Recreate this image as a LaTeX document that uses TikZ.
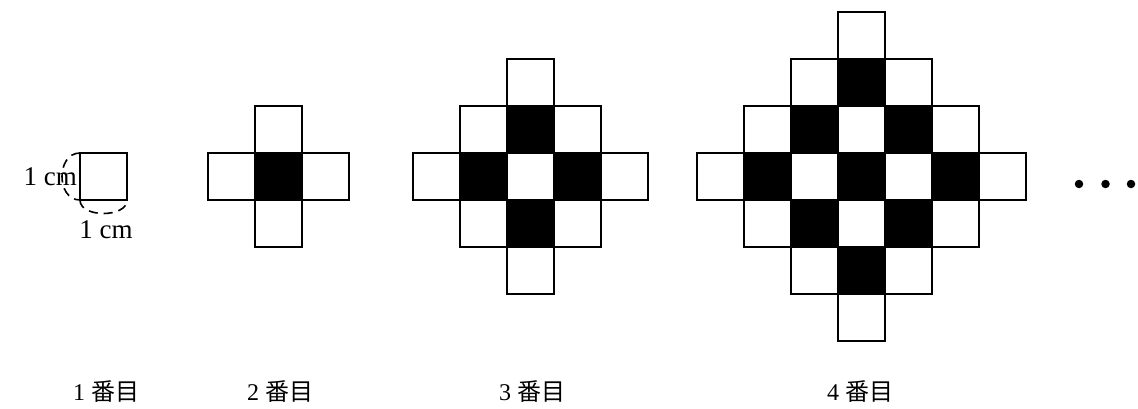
\documentclass[tikz,border=0pt]{standalone}
\usepackage{fontspec}
\setmainfont{Liberation Serif}
\newfontfamily\jp{Noto Sans CJK JP}
\begin{document}
\begin{tikzpicture}[x=1pt,y=-1pt,
  cell/.style={draw,line width=1.3pt,minimum size=47pt,inner sep=0pt,outer sep=0pt},
  wcell/.style={cell,fill=white},
  bcell/.style={cell,fill=black},
  lbl/.style={font=\fontsize{24}{27}\selectfont,inner sep=0pt},
  cmlbl/.style={font=\fontsize{27}{30}\selectfont,inner sep=0pt},
  dimarc/.style={line width=1.6pt,dash pattern=on 9pt off 6pt},
  dot/.style={circle,fill=black,minimum size=8.5pt,inner sep=0pt}]
\useasboundingbox (0,0) rectangle (1138,409);
% figure 1
\node[wcell] (a) at (103.5,176.5) {};
% figures 2-4
\foreach \n/\cx in {2/278.5,3/530.5,4/861.5}{
  \pgfmathtruncatemacro{\m}{\n-1}
  \foreach \i in {-\m,...,\m}{
    \pgfmathtruncatemacro{\r}{\m-abs(\i)}
    \foreach \j in {-\r,...,\r}{
      \pgfmathtruncatemacro{\p}{mod(\m-abs(\i)-abs(\j),2)}
      \ifnum\p=1
        \node[bcell] (f\n c\i r\j) at ({\cx+47*\i},{176.5+47*\j}) {};
      \else
        \node[wcell] (f\n c\i r\j) at ({\cx+47*\i},{176.5+47*\j}) {};
      \fi
    }
  }
}
% dimension arcs
\draw[dimarc] (a.north west) .. controls +(-24,0) and +(-24,0) .. (a.south west);
\draw[dimarc] (a.south west) .. controls +(0,18) and +(0,18) .. (a.south east);
\node[cmlbl,anchor=east] (lcm) at (77,177) {1 cm};
\node[cmlbl] (bcm) at (106,230) {1 cm};
% dots
\node[dot] (d1) at (1079,184) {};
\node[dot] (d2) at (1105.5,184) {};
\node[dot] (d3) at (1131,184) {};
% labels
\node[lbl] (l1) at (106,392) {1\hspace{0.25em}{\jp 番目}};
\node[lbl] (l2) at (280,392) {2\hspace{0.25em}{\jp 番目}};
\node[lbl] (l3) at (532,392) {3\hspace{0.25em}{\jp 番目}};
\node[lbl] (l4) at (860,392) {4\hspace{0.25em}{\jp 番目}};
\end{tikzpicture}
\end{document}
